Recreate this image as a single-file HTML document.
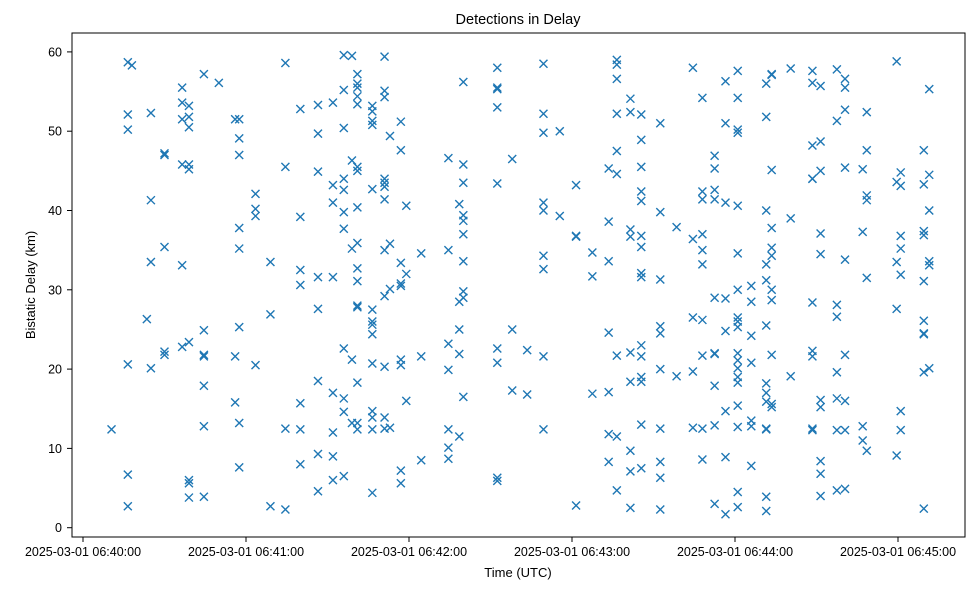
<!DOCTYPE html>
<html><head><meta charset="utf-8"><style>
html,body{margin:0;padding:0;background:#fff;}
svg{display:block;font-family:"Liberation Sans","DejaVu Sans",sans-serif;}
</style></head><body>
<svg id="chart" width="979" height="590" viewBox="0 0 979 590">
<rect width="979" height="590" fill="#fff"/>
<text x="518" y="24" font-size="14.5" text-anchor="middle">Detections in Delay</text>
<g id="marks"></g>
<g id="xaxis"></g>
<g id="yaxis"></g>
<rect x="72" y="33" width="893" height="504" fill="none" stroke="#000" stroke-width="1"/>
<text x="518" y="577" font-size="13" text-anchor="middle">Time (UTC)</text>
<text x="0" y="0" font-size="13" text-anchor="middle" transform="translate(35,285) rotate(-90)">Bistatic Delay (km)</text>
</svg>
<script>
// seconds after 06:40:00 for each column of detections
const colTimes = [10.5,16.5,18,23.5,25,30,36.5,39,44.5,50,56,57.5,63.5,69,74.5,80,86.5,92,96,99,101,106.5,111,113,117,119,124.5,134.5,138.5,140,152.5,158,163.5,169.5,175.5,181.5,187.5,193.5,196.5,201.5,205.5,212.5,218.5,224.5,228,232.5,236.5,241,246,251.5,253.5,260.5,268.5,271.5,277.5,280.5,287,288.5,299.5,301,309.5,311.5];
const colDelays = [
[12.4],
[2.7,6.7,20.6,50.2,52.1,58.7],
[58.3],
[26.3],
[20.1,33.5,41.3,52.3],
[47.2,47.0,35.4,22.2,21.8],
[33.1,22.8,45.8,51.5,53.6,55.5],
[5.6,3.8,6.0,23.4,45.2,45.8,50.5,51.8,53.2],
[3.9,12.8,17.9,21.6,21.8,24.9,57.2],
[56.1],
[51.5,21.6,15.8],
[51.5,49.1,47.0,37.8,35.2,25.3,13.2,7.6],
[42.1,40.2,39.3,20.5],
[33.5,26.9,2.7],
[58.6,45.5,12.5,2.3],
[52.8,39.2,32.5,30.6,15.7,12.4,8.0],
[53.3,49.7,44.9,31.6,27.6,18.5,9.3,4.6],
[53.6,43.2,41.0,31.6,17.0,12.0,9.0,6.0],
[59.6,55.2,50.4,44.0,42.6,39.8,37.7,22.6,16.3,14.6,6.5],
[59.5,46.3,35.2,21.2,13.2],
[57.2,56.0,55.5,54.4,53.4,45.5,45.0,40.4,35.9,32.7,31.1,28.0,27.8,18.3,13.2,12.4],
[53.2,52.5,51.3,50.8,42.7,27.5,26.0,25.6,24.4,20.7,14.7,13.9,12.4,4.4],
[59.4,55.1,54.3,44.0,43.5,43.0,41.4,35.0,29.2,13.9,12.5,20.3],
[49.4,35.8,30.1,12.6],
[51.2,47.6,33.4,30.8,30.5,21.2,20.5,7.2,5.6],
[40.6,32.0,16.0],
[34.6,21.6,8.5],
[46.6,35.0,23.2,19.9,12.4,10.1,8.7],
[40.8,28.5,25.0,21.9,11.5],
[45.8,43.5,39.4,38.7,37.0,33.6,29.8,29.0,16.5,56.2],
[55.5,55.3,53.0,43.4,22.6,20.8,6.3,5.9,58.0],
[46.5,25.0,17.3],
[22.4,16.8],
[58.5,52.2,49.8,41.0,40.0,34.3,32.6,21.6,12.4],
[50.0,39.3],
[43.2,36.8,36.7,2.8],
[34.7,31.7,16.9],
[45.3,38.6,33.6,24.6,17.1,11.8,8.3],
[59.0,58.4,56.6,52.2,47.5,44.6,21.7,11.5,4.7],
[54.1,52.4,37.6,36.7,22.1,18.4,9.7,7.1,2.5],
[48.9,41.2,36.8,32.1,31.6,21.6,19.0,18.4,13.0,7.5,45.5,42.4,35.4,23.0,52.1],
[51.0,39.8,31.3,25.4,24.5,20.0,12.5,8.3,6.3,2.3],
[37.9,19.1],
[58.0,36.4,26.5,19.7,12.6],
[35.0,33.2,26.2,21.7,12.5,8.6,54.2,42.4,41.4,37.0],
[46.9,45.3,41.4,29.0,17.9,12.9,3.0,21.9,22.0,42.6],
[56.3,51.0,41.0,28.9,24.8,14.7,8.9,1.7],
[57.6,54.2,50.2,49.8,40.6,34.6,30.0,26.5,26.0,25.3,22.0,21.1,20.1,19.0,18.3,15.4,4.5,2.6,12.7],
[30.5,28.5,24.2,20.8,7.8,13.5,12.8],
[56.0,51.8,40.0,33.2,31.2,25.5,18.2,17.0,15.9,12.5,12.4,3.9,2.1],
[57.2,57.1,35.3,34.3,28.7,21.8,15.2,15.6,45.1,37.8,30.0],
[57.9,39.0,19.1],
[57.6,56.1,48.2,44.0,28.4,22.3,21.6,12.5,12.3,44.0],
[55.7,48.7,37.1,34.5,16.1,15.2,8.4,6.8,4.0,45.0],
[57.8,51.3,26.6,19.6,16.3,12.3,4.7,28.1],
[56.6,55.5,52.7,45.4,33.8,21.8,16.0,12.3,4.9],
[45.2,37.3,11.0,12.8],
[52.4,47.6,41.9,41.3,31.5,9.7],
[43.6,27.6,9.1,33.5,58.8],
[44.8,43.1,36.8,35.2,31.9,14.7,12.3],
[47.6,43.3,37.4,36.9,31.1,26.1,24.4,24.5,19.6,2.4],
[55.3,44.5,40.0,33.6,33.1,20.1]
];
const xTickSecs = [0,60,120,180,240,300];
const xTickLabels = ["2025-03-01 06:40:00","2025-03-01 06:41:00","2025-03-01 06:42:00","2025-03-01 06:43:00","2025-03-01 06:44:00","2025-03-01 06:45:00"];
const yTicks = [0,10,20,30,40,50,60];

const NS = "http://www.w3.org/2000/svg";
function xScale(s){ return 83 + s * (163/60); }
function yScale(v){ return 527.7 - v * 7.93; }
function mk(tag, attrs){ const e=document.createElementNS(NS,tag); for(const k in attrs) e.setAttribute(k,attrs[k]); return e; }

const marks = document.getElementById('marks');
colTimes.forEach((t, i) => {
  (colDelays[i] || []).forEach(v => {
    const cx = xScale(t), cy = yScale(v), r = 4;
    const p = mk('path', {d:`M${cx-r},${cy-r}L${cx+r},${cy+r}M${cx-r},${cy+r}L${cx+r},${cy-r}`, stroke:'#1f77b4', 'stroke-width':1.4, fill:'none'});
    
    
    marks.appendChild(p);
  });
});

const xa = document.getElementById('xaxis');
xTickSecs.forEach((s, i) => {
  const x = xScale(s);
  const l = mk('line', {x1:x, x2:x, y1:537, y2:542, stroke:'#000', 'stroke-width':1});
  
  
  xa.appendChild(l);
  const t = mk('text', {x:x, y:556, 'font-size':12.5, 'text-anchor':'middle'});
  t.textContent = xTickLabels[i];
  
  
  xa.appendChild(t);
});

const ya = document.getElementById('yaxis');
yTicks.forEach(v => {
  const y = yScale(v);
  const l = mk('line', {x1:67, x2:72, y1:y, y2:y, stroke:'#000', 'stroke-width':1});
  
  
  ya.appendChild(l);
  const t = mk('text', {x:62, y:y+4.5, 'font-size':12.5, 'text-anchor':'end'});
  t.textContent = v;
  
  
  ya.appendChild(t);
});
</script>
</body></html>
